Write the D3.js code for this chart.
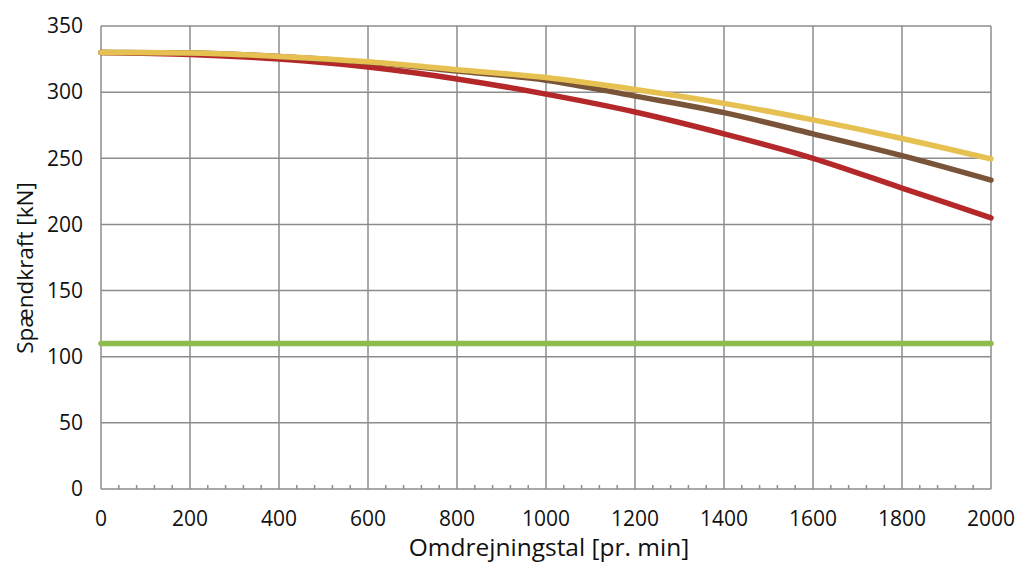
<!DOCTYPE html>
<html><head><meta charset="utf-8">
<script src="https://cdn.jsdelivr.net/npm/d3@7"></script>
<style>body{margin:0;background:#fff}svg{display:block}text{font-family:"Open Sans",sans-serif;fill:#111}</style>
</head><body><svg id="c" width="1022" height="565"></svg>
<script>
const rpm = [0,200,400,600,800,1000,1200,1400,1600,1800,2000];
const seriesRed = [330,328.5,325,319,310,298.5,285,268.5,250,227.5,205];
const seriesBrown = [330,329.5,327,322.5,316,309,297,284.5,268.5,252,233.5];
const seriesYellow = [330,329.5,327,323,317,311,302,291.5,279,265,249.5];
const seriesGreen = [110,110,110,110,110,110,110,110,110,110,110];
const xTicks = [0,200,400,600,800,1000,1200,1400,1600,1800,2000];
const yTicks = [0,50,100,150,200,250,300,350];
const xTitle = "Omdrejningstal [pr. min]";
const yTitle = "Spændkraft [kN]";

const svg = d3.select("#c");
const x = d3.scaleLinear().domain([0,2000]).range([101,991]);
const y = d3.scaleLinear().domain([0,350]).range([489,26]);
const grid = "#8c8c8c";

svg.append("g").selectAll("line").data(yTicks.filter(d=>d>0)).join("line")
  .attr("x1",x(0)).attr("x2",x(2000)).attr("y1",d=>y(d)).attr("y2",d=>y(d))
  .attr("stroke",grid).attr("stroke-width",1.5);
svg.append("g").selectAll("line").data(xTicks.filter(d=>d>0)).join("line")
  .attr("x1",d=>x(d)).attr("x2",d=>x(d)).attr("y1",y(0)).attr("y2",y(350))
  .attr("stroke",grid).attr("stroke-width",1.5);
const minor = d3.range(0,2001,40).filter(d=>d%200!==0);
svg.append("g").selectAll("line").data(minor).join("line")
  .attr("x1",d=>x(d)).attr("x2",d=>x(d)).attr("y1",y(0)).attr("y2",y(0)-4)
  .attr("stroke",grid).attr("stroke-width",1.5);
svg.append("line").attr("x1",x(0)).attr("x2",x(0)).attr("y1",y(0)).attr("y2",y(350)).attr("stroke",grid).attr("stroke-width",1.5);
svg.append("line").attr("x1",x(0)).attr("x2",x(2000)).attr("y1",y(0)).attr("y2",y(0)).attr("stroke",grid).attr("stroke-width",1.5);

svg.append("g").selectAll("text").data(yTicks).join("text")
  .attr("x",83).attr("y",d=>y(d)).attr("dy","0.35em").attr("text-anchor","end")
  .attr("font-size",21).text(d=>d);
svg.append("g").selectAll("text").data(xTicks).join("text")
  .attr("x",d=>x(d)).attr("y",526).attr("text-anchor","middle")
  .attr("font-size",21).text(d=>d);

svg.append("text").attr("x",549).attr("y",556).attr("text-anchor","middle").attr("font-size",24.5).text(xTitle);
svg.append("text").attr("transform","translate(33,268) rotate(-90)").attr("text-anchor","middle").attr("font-size",22.5).text(yTitle);

const line = d3.line().x((d,i)=>x(rpm[i])).y(d=>y(d)).curve(d3.curveMonotoneX);
const series = [[seriesGreen,"#8dbb4c"],[seriesRed,"#b5282a"],[seriesBrown,"#7a5438"],[seriesYellow,"#e6c050"]];
svg.append("g").selectAll("path").data(series).join("path")
  .attr("d",d=>line(d[0])).attr("fill","none").attr("stroke",d=>d[1])
  .attr("stroke-width",5.5).attr("stroke-linecap","round");
</script></body></html>
